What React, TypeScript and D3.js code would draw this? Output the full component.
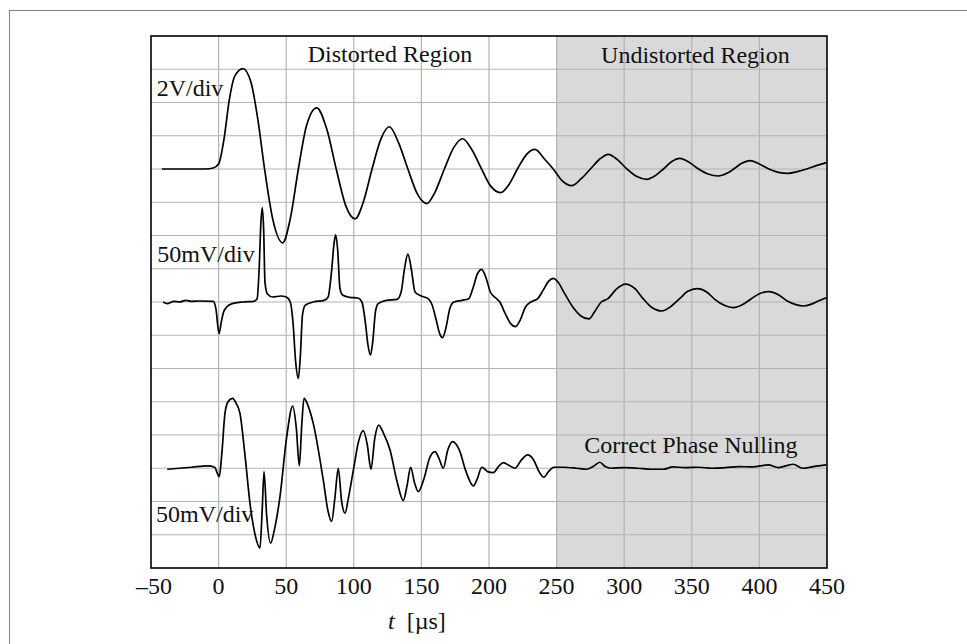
import * as d3 from "d3";

// time axis (µs)
const xTicks = [-50, 0, 50, 100, 150, 200, 250, 300, 350, 400, 450];
const xTickLabels = ["–50", "0", "50", "100", "150", "200", "250", "300", "350", "400", "450"];
const gridRows = d3.range(1, 16); // 16 vertical divisions
const undistortedFrom = 250;

// traces: [t in µs, offset in divisions]
const inputTrace: [number, number][] = [
  [-42, 0], [-10, 0], [-4, 0.03], [0, 0.15], [4, 0.9], [8, 2.1], [12, 2.8], [18, 3.02], [24, 2.6],
  [29, 1.5], [34, 0], [40, -1.5], [47.4, -2.22], [53, -1.5], [59, 0], [65, 1.3], [72.6, 1.84],
  [80, 1.2], [87, 0], [94, -1.1], [101, -1.5], [107, -1.0], [113.5, 0], [120, 0.9], [126.3, 1.27],
  [133, 0.8], [140, 0], [147, -0.75], [154, -1.04], [160, -0.7], [167, 0], [174, 0.65], [180.5, 0.91],
  [187, 0.6], [194.5, 0], [201, -0.5], [208.6, -0.71], [215, -0.45], [221, 0], [228, 0.45], [234, 0.59],
  [241, 0.3], [247.5, 0], [254, -0.35], [261.2, -0.5], [268, -0.3], [275, 0], [282, 0.3], [288.2, 0.44],
  [295, 0.28], [302, 0], [309, -0.22], [316.6, -0.31], [323, -0.2], [329, 0], [335, 0.22], [341.2, 0.32],
  [348, 0.2], [355, 0], [362, -0.15], [369.6, -0.21], [376, -0.13], [381, 0], [387, 0.17], [393, 0.25],
  [400, 0.15], [407, 0], [414, -0.1], [421.3, -0.13], [428, -0.08], [435, 0], [442, 0.1], [449.5, 0.19],
];

const distortedTrace: [number, number][] = [
  [-41, 0], [-38, -0.05], [-33, 0.02], [-29, 0], [-24, 0.05], [-20, 0.02], [-14, 0.03], [-4, 0.02],
  [-2, -0.2], [0.3, -0.95], [2, -0.6], [3.5, -0.32], [6, -0.15], [10, -0.05], [18, 0], [26, 0.02],
  [28.5, 0.1], [30, 1.0], [31.3, 2.4], [32.3, 2.84], [33.3, 2.2], [34.3, 0.6], [36, 0.25], [40, 0.15],
  [46, 0.18], [50, 0.15], [53, 0.0], [55, -0.6], [57, -1.8], [59, -2.3], [60.5, -1.6], [62, -0.4],
  [64, -0.1], [70, 0], [78, 0.05], [81, 0.15], [83.5, 0.9], [85.5, 1.8], [86.6, 2.02], [88, 1.6],
  [89.8, 0.4], [92, 0.2], [97, 0.14], [103, 0.12], [106, 0], [108.5, -0.6], [110.5, -1.3], [112.3, -1.6],
  [114, -1.2], [116, -0.3], [118, -0.05], [124, 0.05], [132, 0.08], [135, 0.3], [137.5, 1.0], [140, 1.44],
  [142.5, 1.0], [145.3, 0.3], [150, 0.18], [155, 0.1], [158, -0.1], [161, -0.55], [163.5, -0.95],
  [165.7, -1.07], [168, -0.8], [171, -0.2], [174, 0], [180, 0.05], [185, 0.1], [188, 0.4], [191.5, 0.85],
  [194.6, 0.98], [198, 0.7], [201, 0.3], [205, 0.12], [208, 0], [212, -0.35], [216, -0.65], [219.7, -0.74],
  [223, -0.55], [227, -0.15], [231, 0], [236, 0.1], [240, 0.35], [244, 0.62], [247.6, 0.71], [251, 0.6],
  [256, 0.25], [262, -0.15], [268, -0.42], [274, -0.51], [278, -0.3], [283, 0], [288, 0.1], [294, 0.38],
  [301, 0.54], [308, 0.4], [314, 0.1], [320, -0.15], [327.7, -0.27], [335, -0.12], [341, 0.1], [347, 0.32],
  [354, 0.4], [361, 0.3], [367, 0.08], [374, -0.1], [380.6, -0.17], [388, -0.07], [394, 0.1], [400, 0.25],
  [407, 0.31], [414, 0.22], [421, 0.02], [427, -0.08], [432.4, -0.12], [438, -0.07], [444, 0.04], [449.5, 0.13],
];

const nulledTrace: [number, number][] = [
  [-38, -0.03], [-20, 0.03], [-8, 0.07], [-3, 0.03], [0.5, -0.25], [2.5, 0.5], [4.7, 1.65], [7, 2.0],
  [10.4, 2.1], [13, 1.95], [15.8, 1.65], [19.5, 0.4], [23.2, -1.05], [27, -2.0], [30.6, -2.4], [32.3, -1.2],
  [33.6, -0.1], [35.5, -1.4], [38.5, -2.25], [41, -1.9], [45.4, -0.85], [50.4, 0.95], [54.8, 1.87],
  [57.5, 1.2], [59.7, 0.07], [61.5, 1.3], [63.2, 2.1], [66, 1.9], [70, 1.35], [77.4, -0.35], [81, -1.3],
  [83.6, -1.6], [86, -0.9], [88.5, 0], [91, -1.0], [93.5, -1.35], [96, -0.9], [99.7, -0.05], [103.5, 0.8],
  [107, 1.13], [110, 0.7], [112.7, -0.03], [115.5, 0.9], [118.4, 1.3], [122, 1.05], [126.8, 0.55],
  [132, -0.4], [136.6, -0.97], [139.5, -0.5], [142, 0.03], [145, -0.45], [147.7, -0.7], [152, -0.3],
  [156, 0.3], [160, 0.5], [163, 0.3], [166.2, 0], [169.5, 0.55], [173.1, 0.8], [178, 0.55], [183, -0.1],
  [188.4, -0.53], [191.5, -0.3], [194.6, 0.03], [199, -0.1], [203.2, -0.13], [207, 0.05], [210.6, 0.17],
  [215, 0.08], [219.2, 0], [224, 0.25], [228.6, 0.4], [233, 0.25], [237, -0.1], [240.5, -0.27], [244, -0.1],
  [248, 0.03], [255, 0.03], [265, 0], [272, -0.03], [277, 0.05], [282, 0.18], [286, 0.05], [290, 0],
  [300, 0.02], [310, 0], [320, -0.03], [329, -0.03], [336, 0.04], [345, 0.02], [355, 0.03], [365, 0],
  [375, 0.02], [385, 0.05], [395, 0.04], [406.6, 0.1], [414, 0.02], [425, 0.12], [432, 0.0], [440, 0.05],
  [449.5, 0.1],
];

const traces = [
  {name: "input", data: inputTrace, baseline: 12},
  {name: "distorted", data: distortedTrace, baseline: 8},
  {name: "nulled", data: nulledTrace, baseline: 3},
];

// annotations: [text, t, division, anchor]
const notes: [string, number, number, string][] = [
  ["Distorted Region", 126.8, 15.22, "middle"],
  ["Undistorted Region", 352.7, 15.2, "middle"],
  ["2V/div", -45.8, 14.2, "start"],
  ["50mV/div", -45.3, 9.21, "start"],
  ["50mV/div", -46.3, 1.39, "start"],
  ["Correct Phase Nulling", 349.4, 3.45, "middle"],
];

const W = 967;
const H = 644;
const plot = {left: 151, top: 36, right: 827, bottom: 568};
const font = "'Liberation Serif', 'Times New Roman', serif";

export default function App() {
  const x = d3.scaleLinear().domain([-50, 450]).range([plot.left, plot.right]);
  const y = d3.scaleLinear().domain([0, 16]).range([plot.bottom, plot.top]);

  const lineFor = (base: number) =>
    d3
      .line<[number, number]>()
      .x((d) => x(d[0]))
      .y((d) => y(base + d[1]))
      .curve(d3.curveMonotoneX);

  return (
    <div style={{position: "fixed", left: 0, top: 0, width: W, height: H, background: "#fff"}}>
      <svg width={W} height={H} style={{display: "block"}} fontFamily={font}>
        <rect x={9.5} y={10.5} width={1000} height={1000} fill="none" stroke="#808080" strokeWidth={1} />

        {/* shaded undistorted region */}
        <rect
          x={x(undistortedFrom)}
          y={plot.top}
          width={x(450) - x(undistortedFrom)}
          height={plot.bottom - plot.top}
          fill="#d9d9d9"
        />

        {/* grid */}
        <g stroke="#b3b3b3" strokeWidth={1.2}>
          {xTicks.slice(1, -1).map((t) => (
            <line key={"v" + t} x1={x(t)} x2={x(t)} y1={plot.top} y2={plot.bottom} />
          ))}
          {gridRows.map((r) => (
            <line key={"h" + r} x1={plot.left} x2={plot.right} y1={y(r)} y2={y(r)} />
          ))}
        </g>

        {/* traces */}
        {traces.map((tr) => (
          <path
            key={tr.name}
            d={lineFor(tr.baseline)(tr.data) || ""}
            fill="none"
            stroke="#000"
            strokeWidth={1.7}
            strokeLinejoin="round"
          />
        ))}

        {/* annotations */}
        {notes.map(([txt, t, v, anchor], i) => (
          <text key={i} x={x(t)} y={y(v)} fontSize={24} textAnchor={anchor} fill="#111">
            {txt}
          </text>
        ))}

        {/* plot frame */}
        <rect
          x={plot.left}
          y={plot.top}
          width={plot.right - plot.left}
          height={plot.bottom - plot.top}
          fill="none"
          stroke="#000"
          strokeWidth={1.6}
        />

        {/* x tick labels */}
        {xTicks.map((t, i) => (
          <text key={t} x={x(t) + (t < 0 ? 3 : 0)} y={plot.bottom + 26} fontSize={24} textAnchor="middle" fill="#111">
            {xTickLabels[i]}
          </text>
        ))}

        {/* x axis title */}
        <text x={388} y={629} fontSize={24} fill="#111">
          <tspan fontStyle="italic">t</tspan>
          <tspan dx={12}>[µs]</tspan>
        </text>
      </svg>
    </div>
  );
}
